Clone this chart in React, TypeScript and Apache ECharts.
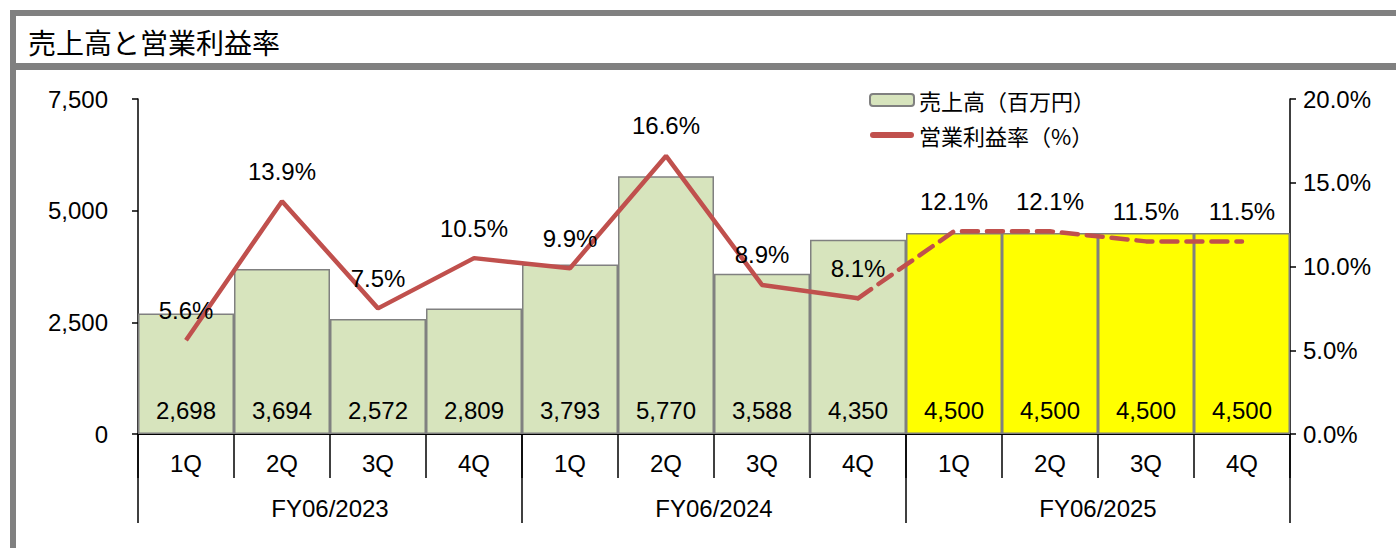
import React, { useEffect, useRef } from "react";
import * as echarts from "echarts";

const quarters = ["1Q", "2Q", "3Q", "4Q", "1Q", "2Q", "3Q", "4Q", "1Q", "2Q", "3Q", "4Q"];
const fiscalYears = ["FY06/2023", "FY06/2024", "FY06/2025"];
const sales = [2698, 3694, 2572, 2809, 3793, 5770, 3588, 4350, 4500, 4500, 4500, 4500];
const margin = [5.6, 13.9, 7.5, 10.5, 9.9, 16.6, 8.9, 8.1, 12.1, 12.1, 11.5, 11.5];
const forecastFrom = 8; // index of first forecast quarter
const salesName = "売上高（百万円）";
const marginName = "営業利益率（%）";
const titleText = "売上高と営業利益率";

const LAT = "'Liberation Sans', Arial, sans-serif";
const CJK = "'Noto Sans CJK JP', sans-serif";

export default function App() {
  const ref = useRef<HTMLDivElement>(null);
  useEffect(() => {
    if (!ref.current) return;
    const chart = echarts.init(ref.current, null, { renderer: "svg" });
    const solid = margin.map((v, i) => (i <= forecastFrom - 1 ? v : "-"));
    const dashed = margin.map((v, i) => (i >= forecastFrom - 1 ? v : "-"));
    const fmt = (v: number) => v.toLocaleString("en-US");
    const lineLabel = {
      show: true,
      position: "top",
      distance: 18,
      fontSize: 24,
      fontFamily: LAT,
      color: "#000",
    };
    chart.setOption({
      animation: false,
      backgroundColor: "#ffffff",
      graphic: [
        { type: "rect", shape: { x: 10, y: 10, width: 1386, height: 6 }, style: { fill: "#808080" } },
        { type: "rect", shape: { x: 10, y: 10, width: 6, height: 538 }, style: { fill: "#808080" } },
        { type: "rect", shape: { x: 10, y: 63, width: 1386, height: 7 }, style: { fill: "#808080" } },
        {
          type: "text",
          x: 28,
          y: 42,
          style: { text: titleText, font: `28px ${CJK}`, fill: "#000", verticalAlign: "middle" },
        },
      ],
      legend: {
        orient: "vertical",
        left: 864,
        top: 83,
        itemWidth: 44,
        itemHeight: 12,
        itemGap: 11,
        textStyle: { fontSize: 22, lineHeight: 24, fontFamily: CJK, color: "#000" },
        data: [
          { name: salesName },
          {
            name: marginName,
            icon: "path://M3,0 H41 A3,3 0 0 1 41,6 H3 A3,3 0 0 1 3,0 Z",
            itemStyle: { color: "#C0504D" },
          },
        ],
      },
      grid: { left: 138, right: 106, top: 99, bottom: 114 },
      xAxis: [
        {
          type: "category",
          data: quarters,
          position: "bottom",
          axisLine: { show: true, lineStyle: { color: "#000", width: 2 } },
          axisTick: { show: true, length: 44, lineStyle: { color: "#000", width: 1.5 } },
          axisLabel: { margin: 17, fontSize: 24, fontFamily: LAT, color: "#000" },
          splitLine: { show: false },
        },
        {
          type: "category",
          data: fiscalYears,
          position: "bottom",
          axisLine: { show: false },
          axisTick: { show: true, length: 89, lineStyle: { color: "#000", width: 1.5 } },
          axisLabel: { margin: 62, fontSize: 24, fontFamily: LAT, color: "#000" },
          splitLine: { show: false },
        },
      ],
      yAxis: [
        {
          type: "value",
          min: 0,
          max: 7500,
          interval: 2500,
          axisLine: { show: true, lineStyle: { color: "#000", width: 1.5 } },
          axisTick: { show: true, length: 6, lineStyle: { color: "#000", width: 1.5 } },
          axisLabel: { margin: 30, fontSize: 24, fontFamily: LAT, color: "#000", formatter: (v: number) => fmt(v) },
          splitLine: { show: false },
        },
        {
          type: "value",
          min: 0,
          max: 20,
          interval: 5,
          position: "right",
          axisLine: { show: true, lineStyle: { color: "#000", width: 1.5 } },
          axisTick: { show: true, length: 6, lineStyle: { color: "#000", width: 1.5 } },
          axisLabel: { margin: 13, fontSize: 24, fontFamily: LAT, color: "#000", formatter: (v: number) => v.toFixed(1) + "%" },
          splitLine: { show: false },
        },
      ],
      series: [
        {
          name: salesName,
          type: "bar",
          xAxisIndex: 0,
          yAxisIndex: 0,
          barCategoryGap: 0,
          itemStyle: { color: "#D7E4BD", borderColor: "#808080", borderWidth: 1.5 },
          data: sales.map((v, i) => ({
            value: v,
            itemStyle: { color: i >= forecastFrom ? "#FFFF00" : "#D7E4BD" },
          })),
          label: {
            show: true,
            position: "insideBottom",
            distance: 12,
            fontSize: 24,
            fontFamily: LAT,
            color: "#000",
            formatter: (p: any) => fmt(p.value),
          },
          z: 1,
        },
        {
          name: marginName,
          type: "line",
          xAxisIndex: 0,
          yAxisIndex: 1,
          data: solid,
          symbol: "circle",
          symbolSize: 0.1,
          lineStyle: { color: "#C0504D", width: 4.5 },
          itemStyle: { color: "#C0504D" },
          label: { ...lineLabel, formatter: (p: any) => p.value.toFixed(1) + "%" },
          z: 3,
        },
        {
          name: marginName,
          type: "line",
          xAxisIndex: 0,
          yAxisIndex: 1,
          data: dashed,
          symbol: "circle",
          symbolSize: 0.1,
          lineStyle: { color: "#C0504D", width: 4.5, type: [16, 9], cap: "round" },
          itemStyle: { color: "#C0504D" },
          label: {
            ...lineLabel,
            formatter: (p: any) => (p.dataIndex >= forecastFrom ? p.value.toFixed(1) + "%" : ""),
          },
          z: 3,
        },
      ],
    });
    return () => chart.dispose();
  }, []);
  return (
    <div
      ref={ref}
      style={{ position: "absolute", left: 0, top: 0, width: 1396, height: 548 }}
    />
  );
}
